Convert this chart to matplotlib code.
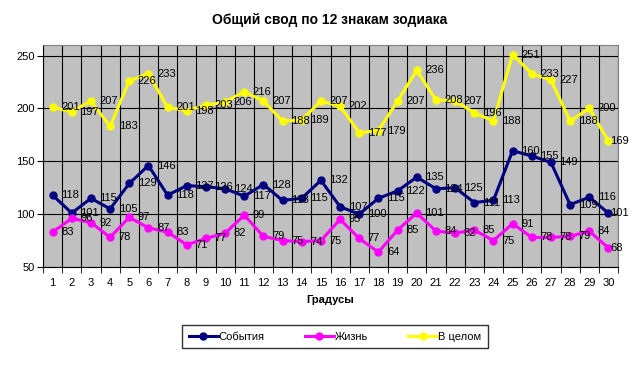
import matplotlib
import numpy as np

matplotlib.use("Agg")
import matplotlib.pyplot as plt
from matplotlib.lines import Line2D

plt.rcParams["font.family"] = ["Liberation Sans", "DejaVu Sans"]

degrees = list(range(1, 31))
events = [118, 101, 115, 105, 129, 146, 118, 127, 126, 124, 117, 128, 113, 115, 132,
          107, 100, 115, 122, 135, 124, 125, 111, 113, 160, 155, 149, 109, 116, 101]
life = [83, 96, 92, 78, 97, 87, 83, 71, 77, 82, 99, 79, 75, 74, 75,
        95, 77, 64, 85, 101, 84, 82, 85, 75, 91, 78, 78, 79, 84, 68]
overall = [201, 197, 207, 183, 226, 233, 201, 198, 203, 206, 216, 207, 188, 189, 207,
           202, 177, 179, 207, 236, 208, 207, 196, 188, 251, 233, 227, 188, 200, 169]

series = [
    ("События", events, "#000080"),
    ("Жизнь", life, "#FF00FF"),
    ("В целом", overall, "#FFFF00"),
]

fig = plt.figure(figsize=(6.34, 3.84), dpi=100)
ax = fig.add_axes([43 / 634, 1 - 267 / 384, 575 / 634, 222 / 384])
ax.set_facecolor("#C0C0C0")

x = np.array(degrees)
for name, values, color in series:
    ax.plot(x, values, color=color, lw=2.2, marker="o", ms=5, zorder=3)
    for xi, v in zip(x, values):
        # the last labels are pushed back so they stay inside the chart, as Excel does
        dx = 0.45 if xi < x[-1] else 0.1
        ax.text(xi + dx, v, str(v), fontsize=8, va="center", ha="left", zorder=4)

ax.set_xlim(0.5, 30.5)
ax.set_ylim(50, 260)
ax.set_yticks([50, 100, 150, 200, 250])
ax.set_xticks(x)
ax.set_xticks(np.arange(0.5, 31, 1), minor=True)
ax.tick_params(axis="x", which="major", length=0, pad=8, labelsize=8)
ax.tick_params(axis="x", which="minor", length=4, direction="out")
ax.tick_params(axis="y", length=4, labelsize=8, pad=2)
ax.grid(True, axis="y", color="black", lw=0.8)
ax.grid(True, axis="x", which="minor", color="black", lw=0.8)
for side in ["left", "bottom"]:
    ax.spines[side].set_color("black")
for side in ["top", "right"]:
    ax.spines[side].set_color("#808080")

fig.text(330 / 634, 1 - 20 / 384, "Общий свод по 12 знакам зодиака",
         ha="center", va="center", fontsize=10, fontweight="bold")
fig.text(330 / 634, 1 - 300 / 384, "Градусы", ha="center", va="center",
         fontsize=8, fontweight="bold")

handles = [Line2D([], [], color=c, lw=2.2, marker="o", ms=5) for _, _, c in series]
leg = fig.legend(handles, [n for n, _, _ in series], loc="center",
                 bbox_to_anchor=(335 / 634, 1 - 336.5 / 384), ncol=3, fontsize=8,
                 frameon=True, fancybox=False, edgecolor="black", handlelength=2.6,
                 columnspacing=3.6, handletextpad=0.1, borderpad=0.6)
leg.get_frame().set_linewidth(1)

fig.savefig("out.png", dpi=100)
